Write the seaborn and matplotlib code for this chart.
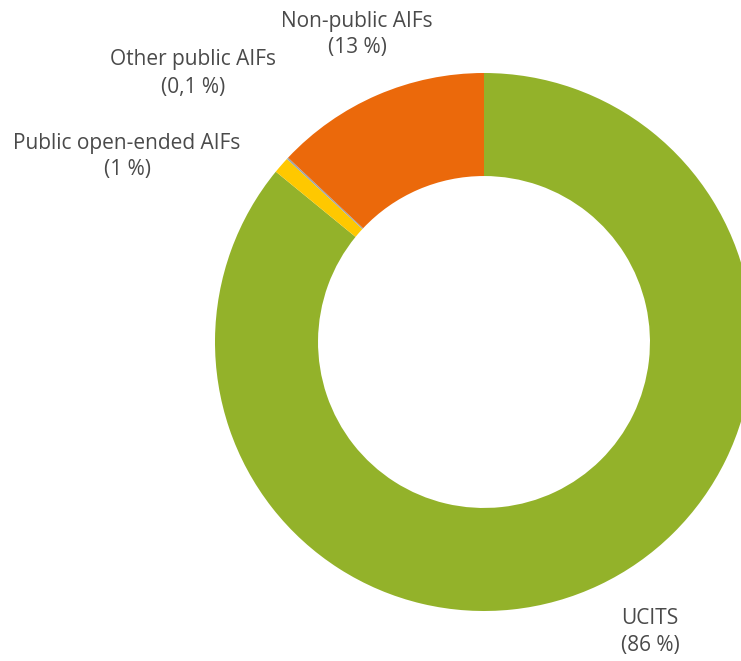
import seaborn as sns
import matplotlib.pyplot as plt

# fund categories, share of assets (%)
categories = ["UCITS", "Public open-ended AIFs", "Other public AIFs", "Non-public AIFs"]
shares = [86, 1, 0.1, 13]
share_labels = ["86 %", "1 %", "0,1 %", "13 %"]
colors = sns.color_palette(["#93b22a", "#ffc800", "#9aa5ad", "#eb690b"])

sns.set_style("white")
plt.rcParams['font.family'] = ['Open Sans', 'DejaVu Sans']

W, H = 741, 661
fig = plt.figure(figsize=(W / 100, H / 100), dpi=100)
ax = fig.add_axes([0, 0, 1, 1])

# donut drawn in pixel-like units so it can run off the right edge
cx, cy, r = 484, H - 342, 269
ax.pie(shares, colors=colors, startangle=90, counterclock=False,
       center=(cx, cy), radius=r,
       wedgeprops=dict(width=r * 0.383, linewidth=0))
ax.set_xlim(0, W)
ax.set_ylim(0, H)
ax.set_aspect("equal")
ax.axis("off")

# label positions (pixels from top-left)
label_pos = [(650, 619), (127, 143), (193, 60), (357, 21)]
for name, txt, (x, y) in zip(categories, share_labels, label_pos):
    ax.text(x, H - y, name, ha="center", va="center", fontsize=15, color="#4a4a4a")
    ax.text(x, H - y - 27, "(" + txt + ")", ha="center", va="center",
            fontsize=15, color="#4a4a4a")

fig.savefig("out.png", dpi=100)
